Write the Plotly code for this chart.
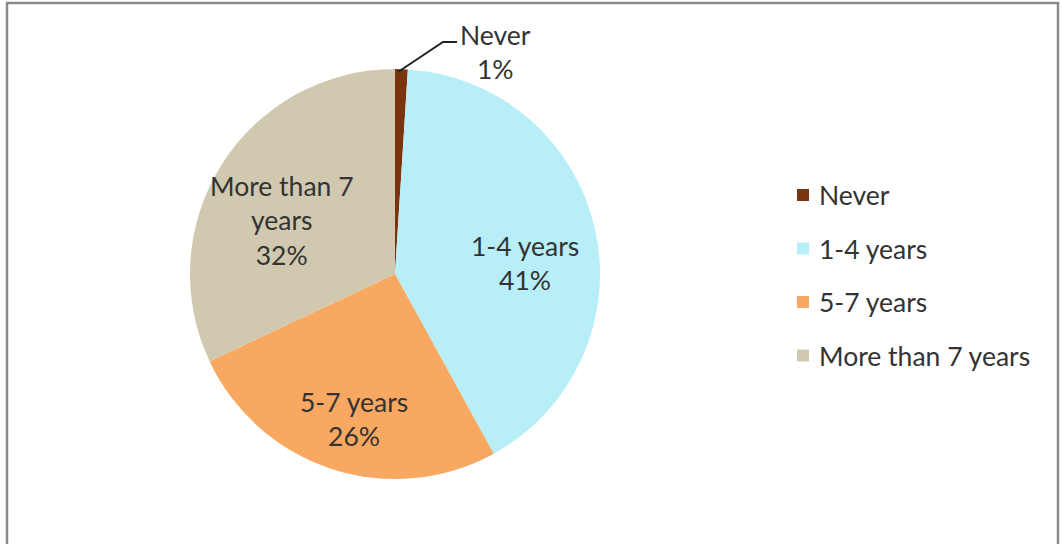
import math
import plotly.graph_objects as go

# Survey answers: how long since ...
categories = ["Never", "1-4 years", "5-7 years", "More than 7 years"]
slice_text = ["Never", "1-4 years", "5-7 years", "More than 7<br>years"]
shares = [1, 41, 26, 32]
colors = ["#7A3410", "#B8EEF8", "#F9A862", "#D0C9AF"]

W, H = 1062, 544
FONT = "Lato"
TXT = "#333333"
FS = 26.5

# pie geometry in pixels
cx, cy, r = 395, 274, 205

fig = go.Figure(
    go.Pie(
        labels=categories,
        values=shares,
        marker=dict(colors=colors, line=dict(width=0)),
        sort=False,
        direction="clockwise",
        rotation=0,
        textinfo="none",
        showlegend=False,
        hoverinfo="label+percent",
        domain=dict(
            x=[(cx - r) / W, (cx + r) / W],
            y=[1 - (cy + r) / H, 1 - (cy - r) / H],
        ),
    )
)

shapes = []
annotations = []

# slice labels placed on each slice's bisector, nudged slightly down
total = sum(shares)
start = 0.0
label_r = 0.65 * r
label_drop = 18
for i, (txt, v) in enumerate(zip(slice_text, shares)):
    mid = (start + v / 2) / total * 2 * math.pi
    start += v
    if i == 0:
        continue
    px = cx + label_r * math.sin(mid)
    py = cy - label_r * math.cos(mid) + label_drop
    annotations.append(dict(xref="paper", yref="paper", x=px / W, y=1 - py / H,
                            xanchor="center", yanchor="middle",
                            text=f"{txt}<br>{round(100 * v / total)}%", showarrow=False,
                            font=dict(family=FONT, size=FS, color=TXT), align="center"))

# outer frame
shapes.append(dict(type="rect", xref="paper", yref="paper",
                   x0=7 / W, x1=1058 / W, y0=-0.05, y1=1 - 3 / H,
                   line=dict(color="#8a8a8a", width=2.5), fillcolor="rgba(0,0,0,0)"))

# leader line and outside label for the smallest slice
shapes.append(dict(type="path", xref="paper", yref="paper",
                   path=f"M {398 / W} {1 - 72 / H} L {443 / W} {1 - 42 / H} L {457 / W} {1 - 42 / H}",
                   line=dict(color="#222222", width=2)))
annotations.append(dict(xref="paper", yref="paper", x=495 / W, y=1 - 52 / H,
                        xanchor="center", yanchor="middle",
                        text=f"{slice_text[0]}<br>{round(100 * shares[0] / total)}%", showarrow=False,
                        font=dict(family=FONT, size=FS, color=TXT), align="center"))

# legend: square swatch + label per category
leg_x, leg_y0, leg_dy = 797, 195, 53.5
for i, (name, col) in enumerate(zip(categories, colors)):
    y = leg_y0 + i * leg_dy
    shapes.append(dict(type="rect", xref="paper", yref="paper",
                       x0=leg_x / W, x1=(leg_x + 12) / W,
                       y0=1 - (y + 6) / H, y1=1 - (y - 6) / H,
                       line=dict(width=0), fillcolor=col))
    annotations.append(dict(xref="paper", yref="paper", x=(leg_x + 20) / W, y=1 - y / H,
                            xanchor="left", yanchor="middle", text=name, showarrow=False,
                            font=dict(family=FONT, size=FS, color=TXT)))

fig.update_layout(
    width=W, height=H,
    margin=dict(l=0, r=0, t=0, b=0),
    paper_bgcolor="white", plot_bgcolor="white",
    shapes=shapes, annotations=annotations,
)

fig.write_html("out.html")
